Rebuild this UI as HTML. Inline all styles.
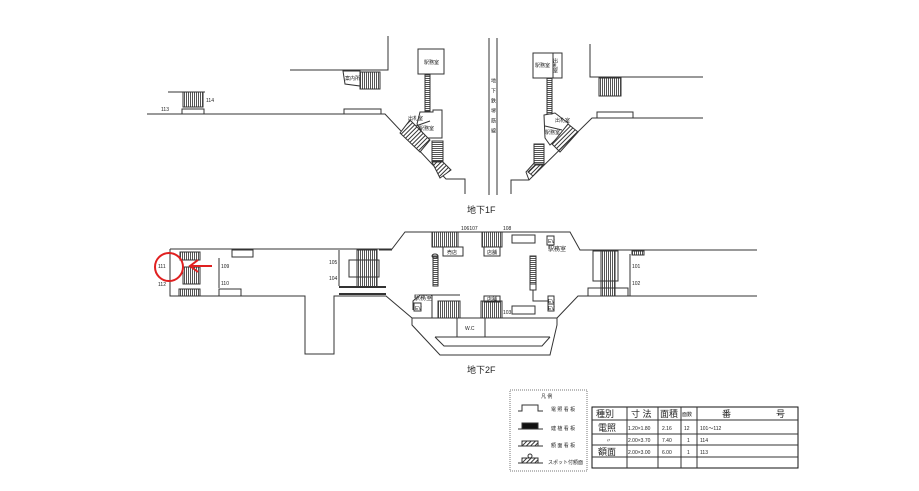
<!DOCTYPE html>
<html><head><meta charset="utf-8"><style>
html,body{margin:0;padding:0;background:#fff;}
svg{display:block;}
text{font-family:"Liberation Sans","Noto Sans CJK JP",sans-serif;fill:#222;}
</style></head><body>
<svg width="919" height="491" viewBox="0 0 919 491" xmlns="http://www.w3.org/2000/svg">
<defs>
<pattern id="st" width="2" height="4" patternUnits="userSpaceOnUse"><rect width="2" height="4" fill="#fff"/><rect width="1" height="4" fill="#555"/></pattern>
<pattern id="sth" width="4" height="2" patternUnits="userSpaceOnUse"><rect width="4" height="2" fill="#fff"/><rect width="4" height="1" fill="#555"/></pattern>
<pattern id="hat" width="3" height="3" patternUnits="userSpaceOnUse" patternTransform="rotate(45)"><rect width="3" height="3" fill="#fff"/><rect width="1" height="3" fill="#333"/></pattern>
</defs>
<g fill="none" stroke="#333" stroke-width="1">
<!-- 1F left -->
<polyline points="388,36 388,70 290,70"/>
<polygon points="343,71 360,71 360,86 345,84" />
<rect x="360" y="72" width="20" height="17" fill="url(#st)"/>
<polyline points="168,92 205,92"/>
<rect x="183" y="92" width="20" height="15" fill="url(#st)"/>
<rect x="182" y="109" width="22" height="5"/>
<polyline points="147,114 385,114 446,179 465,179 465,194"/>
<rect x="344" y="109" width="37" height="5"/>
<rect x="418" y="49" width="26" height="25"/>
<rect x="425" y="75" width="5" height="36" fill="url(#sth)"/>
<polygon points="420,112 433,112 433,110 442,110 442,138 427,138 422,132 417,124"/>
<line x1="413" y1="127" x2="430" y2="121"/>
<polygon points="400,133 410,120 430,140 420,152" fill="url(#hat)"/>
<rect x="432" y="141" width="11" height="20" fill="url(#sth)"/>
<polygon points="432,162 443,162 451,170 440,178" fill="url(#hat)"/>
<line x1="489" y1="38" x2="489" y2="195"/><line x1="497" y1="38" x2="497" y2="195"/>
<!-- 1F right -->
<rect x="533" y="53" width="29" height="25"/><line x1="553" y1="53" x2="553" y2="78"/>
<rect x="547" y="78" width="5" height="36" fill="url(#sth)"/>
<polygon points="544,115 555,113 568,123 568,128 550,145 545,138"/>
<line x1="545" y1="126" x2="562" y2="130"/>
<polygon points="568,124 578,132 560,152 552,144" fill="url(#hat)"/>
<rect x="534" y="144" width="10" height="20" fill="url(#sth)"/>
<polygon points="535,165 543,165 533,176 528,172" fill="url(#hat)"/>
<polyline points="590,44 590,77 703,77"/>
<rect x="599" y="78" width="22" height="18" fill="url(#st)"/>
<polyline points="703,118 592,118 529,180 511,180 511,194"/>
<polyline points="529,180 526,172 535,162"/>
<rect x="597" y="112" width="36" height="6"/>
<!-- 2F -->
<polyline points="170,249 392,249 405,232 570,232 580,250 757,250"/>
<polyline points="757,296 578,296 557,318"/>
<polyline points="170,249 170,296 305,296 305,354 334,354 334,296 386,296 412,318 557,318"/>
<polyline points="412,318 412,325 440,355 550,355 557,325 557,318"/>
<polyline points="435,337 550,337"/><polyline points="435,337 444,346 542,346 550,337"/>
<rect x="457" y="318" width="28" height="19"/>
<rect x="180" y="252" width="20" height="8" fill="url(#st)"/>
<rect x="183" y="267" width="17" height="17" fill="url(#st)"/>
<rect x="179" y="289" width="21" height="7" fill="url(#st)"/>
<rect x="232" y="250" width="21" height="7"/>
<rect x="219" y="289" width="22" height="7"/>
<line x1="170" y1="255" x2="170" y2="280" stroke-width="1"/>
<line x1="219" y1="258" x2="219" y2="288"/>
<rect x="357" y="250" width="20" height="37" fill="url(#st)"/>
<rect x="349" y="260" width="30" height="17"/>
<line x1="339" y1="287" x2="386" y2="287" stroke-width="2"/>
<line x1="339" y1="294" x2="386" y2="294" stroke-width="2"/>
<line x1="339" y1="250" x2="339" y2="286"/>
<line x1="379" y1="250" x2="392" y2="250"/>
<rect x="432" y="232" width="26" height="15" fill="url(#st)"/>
<rect x="482" y="232" width="20" height="15" fill="url(#st)"/>
<rect x="512" y="235" width="23" height="8"/>
<rect x="443" y="247" width="20" height="9"/><rect x="484" y="247" width="16" height="9"/>
<rect x="547" y="236" width="7" height="9"/>
<rect x="433" y="256" width="5" height="30" fill="url(#sth)"/>
<ellipse cx="435" cy="256" rx="3" ry="2"/>
<rect x="530" y="256" width="6" height="28" fill="url(#sth)"/>
<rect x="530" y="284" width="6" height="6"/>
<polyline points="533,290 533,301 548,301"/>
<polyline points="413,310 413,301 420,295 432,295 432,318"/>
<rect x="414" y="303" width="7" height="8"/>
<line x1="432" y1="295" x2="460" y2="295"/>
<rect x="438" y="301" width="22" height="17" fill="url(#st)"/>
<rect x="481" y="301" width="21" height="17" fill="url(#st)"/>
<rect x="484" y="296" width="16" height="6"/>
<rect x="512" y="306" width="23" height="8"/>
<rect x="548" y="296" width="6" height="8"/><rect x="548" y="304" width="6" height="7"/>
<rect x="601" y="251" width="14" height="45" fill="url(#st)"/>
<rect x="593" y="251" width="25" height="30"/>
<rect x="588" y="288" width="40" height="8"/>
<line x1="630" y1="254" x2="630" y2="296"/>
<rect x="632" y="251" width="12" height="4" fill="url(#st)"/>
<circle cx="169" cy="267" r="14" stroke="#e02020" stroke-width="2"/>
<line x1="212" y1="266" x2="191" y2="266" stroke="#e02020" stroke-width="2"/>
<polyline points="198,260 190,266 198,272" stroke="#e02020" stroke-width="2"/>
<!-- legend -->
<rect x="510" y="390" width="77" height="81" stroke-dasharray="1,1" stroke="#777"/>
<polyline points="518,411 522,411 522,405 538,405 538,411 543,411"/>
<rect x="522" y="423" width="16" height="6" fill="#111"/><line x1="518" y1="429" x2="543" y2="429"/>
<rect x="522" y="441" width="16" height="5" fill="url(#hat)"/><line x1="518" y1="446" x2="543" y2="446"/>
<rect x="522" y="458" width="16" height="5" fill="url(#hat)"/><line x1="518" y1="463" x2="543" y2="463"/><circle cx="530" cy="456" r="2"/>
<rect x="592" y="407" width="206" height="61" stroke="#111"/>
<line x1="592" y1="420" x2="798" y2="420"/><line x1="592" y1="434" x2="798" y2="434"/>
<line x1="592" y1="445" x2="798" y2="445"/><line x1="592" y1="457" x2="798" y2="457"/>
<line x1="627" y1="407" x2="627" y2="468"/><line x1="658" y1="407" x2="658" y2="468"/>
<line x1="681" y1="407" x2="681" y2="468"/><line x1="697" y1="407" x2="697" y2="468"/>
</g>
<g font-size="5">
<text x="345" y="80">案内所</text>
<text x="424" y="64">駅務室</text>
<text x="408" y="120">出札室</text>
<text x="419" y="130">駅務室</text>
<text x="535" y="67">駅務室</text>
<text x="555" y="58" writing-mode="tb">出札室</text>
<text x="555" y="122">出札室</text>
<text x="545" y="134">駅務室</text>
<text x="493" y="78" writing-mode="tb" letter-spacing="5">地下鉄堺筋線</text>
<text x="161" y="111">113</text><text x="206" y="102">114</text>
<text x="158" y="268">111</text><text x="158" y="286">112</text>
<text x="221" y="268">109</text><text x="221" y="285">110</text>
<text x="329" y="264">105</text><text x="329" y="280">104</text>
<text x="461" y="230">106107</text><text x="503" y="230">108</text><text x="503" y="314">103</text>
<text x="632" y="268">101</text><text x="632" y="285">102</text>
<text x="447" y="254">売店</text><text x="487" y="254">店舗</text><text x="487" y="301">店舗</text>
<text x="548" y="243">EV</text><text x="415" y="310">EV</text>
<text x="548" y="303">EV</text><text x="548" y="310">EV</text>
<text x="548" y="251" font-size="6">駅務室</text><text x="414" y="300" font-size="6">駅務室</text>
<text x="465" y="330">W.C</text>
<text x="541" y="398">凡 例</text>
<text x="551" y="411">電 照 看 板</text><text x="551" y="430">建 植 看 板</text>
<text x="551" y="447">額 面 看 板</text><text x="548" y="464">スポット付額面</text>
<text x="628" y="430">1.20×1.80</text><text x="628" y="442">2.00×3.70</text><text x="628" y="454">2.00×3.00</text>
<text x="662" y="430">2.16</text><text x="662" y="442">7.40</text><text x="662" y="454">6.00</text>
<text x="684" y="430">12</text><text x="687" y="442">1</text><text x="687" y="454">1</text>
<text x="700" y="430">101〜112</text><text x="700" y="442">114</text><text x="700" y="454">113</text>
<text x="606" y="442">〃</text><text x="682" y="416">面数</text>
</g>
<g font-size="9">
<text x="596" y="417">種別</text><text x="631" y="417">寸 法</text><text x="660" y="417">面積</text>
<text x="722" y="417">番</text><text x="776" y="417">号</text>
<text x="598" y="431">電照</text><text x="598" y="455">額面</text>
<text x="467" y="213">地下1F</text><text x="467" y="373">地下2F</text>
</g>
</svg>
</body></html>
